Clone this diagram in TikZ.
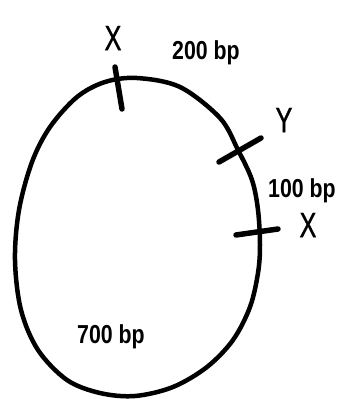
\documentclass[tikz,border=0pt]{standalone}
\usepackage{fontspec}
\setmainfont{Liberation Sans}
\newfontfamily\sitefont[FakeBold=1.2]{Liberation Sans}
\begin{document}
\begin{tikzpicture}[x=1pt,y=-1pt,
  ring/.style={line width=4.5pt},
  tick/.style={line width=5.5pt,line cap=round},
  site/.style={inner sep=0pt,font=\fontsize{35}{40}\sitefont},
  bplabel/.style={inner sep=0pt,anchor=base,font=\fontsize{26}{30}\selectfont\bfseries}]
\useasboundingbox (0,0) rectangle (340,399);
\draw[ring] plot[smooth cycle,tension=0.55] coordinates {
  (137,78) (180,87) (220,118) (238,150) (252,180) (258,210) (260,245)
  (258,273) (250,307) (233,340) (207,367) (173,387) (135,396) (100,393)
  (67,380) (38,350) (21,310) (15,260) (19,210) (32,162) (50,127) (77,97)
  (105,82)};
\coordinate (t1a) at (115,67); \coordinate (t1b) at (122,109);
\coordinate (t2a) at (219,162); \coordinate (t2b) at (261,138);
\coordinate (t3a) at (236,235); \coordinate (t3b) at (278,229);
\draw[tick] (t1a) -- (t1b);
\draw[tick] (t2a) -- (t2b);
\draw[tick] (t3a) -- (t3b);
\node[site] (x1) at (113,38) {\scalebox{0.72}[1]{X}};
\node[site] (y1) at (284,120) {\scalebox{0.72}[1]{Y}};
\node[site] (x2) at (308,225) {\scalebox{0.72}[1]{X}};
\node[bplabel] (l200) at (206,59) {\scalebox{0.82}[1]{200 bp}};
\node[bplabel] (l100) at (302,197) {\scalebox{0.82}[1]{100 bp}};
\node[bplabel] (l700) at (111,343) {\scalebox{0.82}[1]{700 bp}};
\end{tikzpicture}
\end{document}
